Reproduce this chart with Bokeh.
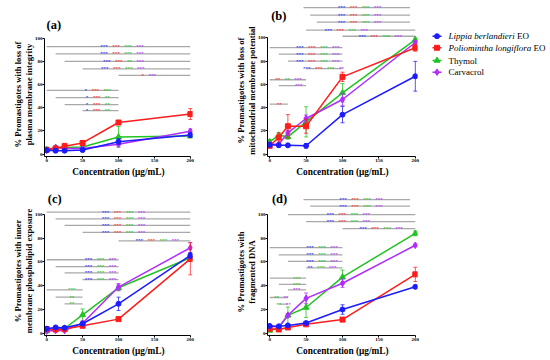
from bokeh.plotting import figure
from bokeh.models import ColumnDataSource, FixedTicker, Range1d
from bokeh.layouts import row, column
from bokeh.embed import file_html
from bokeh.resources import INLINE
from bokeh.core.properties import value

# ---------------- data ----------------
conc = [0, 12.5, 25, 50, 100, 200]
x_ticks = [0, 50, 100, 150, 200]
y_ticks = [0, 20, 40, 60, 80, 100]
legend_italic = ["Lippia berlandieri", "Poliomintha longiflora", "Thymol", "Carvacrol"]
legend_suffix = ["EO", "EO", "", ""]
panel_labels = ["(a)", "(b)", "(c)", "(d)"]
y_titles = [
    "% Promastigotes with loss of\nplasma membrane integrity",
    "% Promastigotes with loss of\nmitochondrial membrane potential",
    "% Promastigotes with inner\nmembrane phospholipid exposure",
    "% Promastigotes with\nfragmented DNA",
]
x_title = "Concentration (\u03bcg/mL)"

# panel (a) plasma membrane integrity
a_lippia = [3.4, 3.0, 3.0, 3.6, 10.8, 16.5]
a_lippia_err = [1.0, 1.0, 1.2, 1.5, 2.5, 2.0]
a_polio = [3.8, 5.0, 6.9, 9.7, 27.3, 34.6]
a_polio_err = [1.0, 1.0, 2.5, 2.0, 1.5, 4.7]
a_thymol = [4.0, 5.7, 5.8, 6.2, 14.8, 15.6]
a_thymol_err = [1.5, 1.0, 1.0, 1.0, 9.0, 1.5]
a_carv = [3.2, 5.8, 5.0, 4.9, 8.6, 19.8]
a_carv_err = [1.0, 1.0, 1.0, 1.0, 1.5, 2.0]

# panel (b) mitochondrial membrane potential
b_lippia = [8.0, 7.7, 7.6, 7.2, 34.0, 67.0]
b_lippia_err = [1.5, 1.5, 1.0, 2.0, 7.0, 12.8]
b_polio = [7.2, 14.3, 24.0, 24.0, 66.5, 91.5]
b_polio_err = [1.0, 4.0, 10.0, 6.0, 4.0, 3.0]
b_thymol = [10.6, 16.3, 14.9, 27.8, 52.7, 98.5]
b_thymol_err = [2.0, 2.0, 2.0, 13.0, 8.0, 1.0]
b_carv = [8.6, 8.6, 18.3, 30.7, 47.0, 96.0]
b_carv_err = [1.0, 1.0, 2.0, 3.0, 5.0, 1.5]

# panel (c) inner membrane phospholipid exposure
c_lippia = [3.7, 4.8, 4.5, 7.9, 24.7, 65.4]
c_lippia_err = [1.0, 1.0, 1.0, 1.5, 5.6, 2.5]
c_polio = [3.4, 3.1, 3.4, 6.2, 11.8, 62.6]
c_polio_err = [0.8, 0.8, 0.8, 1.0, 1.0, 13.5]
c_thymol = [1.7, 3.9, 3.9, 15.4, 38.2, 63.5]
c_thymol_err = [0.8, 1.0, 1.0, 5.0, 2.5, 3.0]
c_carv = [1.7, 2.2, 2.2, 8.4, 38.8, 71.9]
c_carv_err = [0.8, 0.8, 0.8, 1.0, 3.0, 4.5]

# panel (d) fragmented DNA
d_lippia = [6.0, 5.7, 6.5, 8.5, 19.9, 39.0]
d_lippia_err = [1.0, 1.0, 1.0, 1.0, 4.0, 1.0]
d_polio = [3.7, 3.1, 4.8, 7.4, 11.4, 49.5]
d_polio_err = [0.8, 0.8, 1.0, 1.0, 1.5, 6.0]
d_thymol = [2.3, 4.3, 15.0, 21.6, 47.2, 84.0]
d_thymol_err = [1.0, 2.0, 7.0, 8.5, 6.0, 2.0]
d_carv = [5.7, 5.1, 15.0, 29.3, 42.0, 74.0]
d_carv_err = [1.0, 1.0, 1.5, 4.5, 3.5, 1.0]

# significance brackets: (y, x start, x end, text centre, groups)
ann_a = [
    (92.8, 0, 200, 105, "B*** R*** G*** P***"),
    (86.5, 12.5, 200, 105, "B*** R*** G*** P***"),
    (80.0, 25, 200, 107, "B*** R*** G** P***"),
    (73.6, 50, 200, 106, "B*** R*** G*** P***"),
    (68.0, 100, 200, 142, "R* P***"),
    (55.0, 0, 100, 71, "B* R*** G***"),
    (48.7, 12.5, 100, 71, "B* R*** G**"),
    (42.7, 25, 100, 71, "B* R*** G**"),
    (37.5, 50, 100, 71, "B* R*** G**"),
]
ann_b = [
    (126.0, 0, 200, 105, "B*** R*** G*** P***"),
    (119.5, 12.5, 200, 105, "B*** R*** G*** P***"),
    (113.5, 25, 200, 105, "B*** R*** G*** P***"),
    (106.7, 50, 200, 105, "B*** R*** G*** P***"),
    (101.4, 100, 200, 152, "B*** R*** G*** P***"),
    (91.7, 0, 100, 66, "B*** R*** G*** P***"),
    (86.0, 12.5, 100, 66, "B*** R*** G*** P***"),
    (80.0, 25, 100, 66, "B*** R*** G*** P***"),
    (73.6, 50, 100, 74, "B*** R*** G*** P**"),
    (64.0, 0, 50, 26, "R** G** P***"),
    (59.0, 12.5, 50, 40, "P***"),
    (43.0, 0, 25, 13, "R**"),
]
ann_c = [
    (102.0, 0, 200, 107, "B*** R*** G*** P***"),
    (96.3, 12.5, 200, 107, "B*** R*** G*** P***"),
    (90.7, 25, 200, 107, "B*** R*** G*** P***"),
    (84.8, 50, 200, 107, "B*** R*** G*** P***"),
    (77.8, 100, 200, 154, "B*** R*** G*** P***"),
    (61.8, 0, 100, 75, "B*** G*** P***"),
    (56.0, 12.5, 100, 75, "B*** G*** P***"),
    (50.8, 25, 100, 75, "B*** G*** P***"),
    (45.0, 50, 100, 75, "B*** G*** P***"),
    (36.5, 0, 50, 35, "G***"),
    (30.3, 12.5, 50, 35, "G**"),
    (24.7, 25, 50, 35, "G**"),
]
ann_d = [
    (112.5, 0, 200, 108, "B*** R*** G*** P***"),
    (107.0, 12.5, 200, 108, "B*** R*** G*** P***"),
    (99.8, 25, 200, 108, "B*** R*** G*** P***"),
    (94.0, 50, 200, 108, "B*** R*** G*** P***"),
    (88.0, 100, 200, 153, "B*** R*** G*** P***"),
    (72.0, 0, 100, 72, "B*** G*** P***"),
    (66.0, 12.5, 100, 72, "B*** G*** P***"),
    (60.5, 25, 100, 72, "B*** G*** P***"),
    (55.0, 50, 100, 72, "B** G*** P***"),
    (46.3, 0, 50, 37, "G***"),
    (41.0, 12.5, 50, 37, "G***"),
    (36.4, 25, 50, 37, "P***"),
    (30.0, 0, 25, 16, "G** P**"),
    (24.4, 12.5, 25, 19, "G** P**"),
]

# ---------------- style ----------------
FONT = "Liberation Serif"
COLORS = {"B": "#1c1cff", "R": "#ff1c1c", "G": "#22c322", "P": "#b12cff"}
SERIES_KEYS = ["B", "R", "G", "P"]
MARKERS = ["circle", "square", "triangle", "diamond"]
MSIZE = [5, 5, 6, 6.5]
DRAW_ORDER = [2, 3, 1, 0]
STAR_ASCENT = 5.2   # px above the baseline taken by a 5px asterisk text


def bare_figure(width, height, xr, yr):
    f = figure(width=width, height=height, x_range=Range1d(*xr), y_range=Range1d(*yr),
               toolbar_location=None, output_backend="svg", min_border=0,
               x_axis_type=None, y_axis_type=None)
    f.outline_line_color = None
    f.grid.visible = False
    f.background_fill_color = "white"
    f.border_fill_color = "white"
    return f


def draw_lines(p, ann):
    seg = ColumnDataSource(dict(x0=[a[1] for a in ann], x1=[a[2] for a in ann],
                                y=[a[0] for a in ann]))
    p.segment(x0="x0", y0="y", x1="x1", y1="y", source=seg,
              line_color="#a9a9a9", line_width=1.3)


def draw_stars(p, ann):
    tx, ty, tt, tc, to = [], [], [], [], []
    star_w, gap = 2.5, 4.5
    for (yv, x0, x1, xc, groups) in ann:
        gl = groups.split()
        widths = [len(g[1:]) * star_w for g in gl]
        total = sum(widths) + gap * (len(gl) - 1)
        cur = -total / 2
        for g, w in zip(gl, widths):
            tx.append(xc)
            ty.append(yv)
            tt.append(g[1:])
            tc.append(COLORS[g[0]])
            to.append(cur + w / 2)
            cur += w + gap
    tsrc = ColumnDataSource(dict(x=tx, y=ty, text=tt, color=tc, xoff=to))
    p.text(x="x", y="y", text="text", text_color="color", x_offset="xoff",
           source=tsrc, text_font=value(FONT), text_font_size="5px",
           text_font_style="bold", text_align="center", text_baseline="alphabetic")


def build(idx, series, errs, ann, width, mbl, mbr, row_h, strip_h, mbb, ppy, label_pos):
    frame_w = width - mbl - mbr
    ppu = frame_w / 206.0
    frame_h = row_h - strip_h - mbb
    y_top = frame_h / ppy - 2
    strip_top = y_top + strip_h / ppy
    xl = -3 - mbl / ppu
    xr = 203 + mbr / ppu

    lines_up = [a for a in ann if a[0] > y_top]
    lines_dn = [a for a in ann if a[0] <= y_top]
    stars_up = [a for a in ann if a[0] + STAR_ASCENT / ppy > y_top]
    stars_dn = [a for a in ann if a[0] + STAR_ASCENT / ppy <= y_top]

    # strip above the frame: upper brackets and the panel letter
    s = bare_figure(width, strip_h, (xl, xr), (y_top, strip_top))
    draw_lines(s, lines_up)
    draw_stars(s, stars_up)
    s.text(x=[xl + label_pos[0] / ppu], y=[strip_top - label_pos[1] / ppy],
           text=[panel_labels[idx]], text_font=value(FONT), text_font_size="12.5px",
           text_font_style="bold", text_align="left", text_baseline="middle",
           text_color="black")

    p = figure(width=width, height=row_h - strip_h, x_range=Range1d(-3, 203),
               y_range=Range1d(-2, y_top), toolbar_location=None,
               output_backend="svg", min_border_left=mbl, min_border_right=mbr,
               min_border_top=0, min_border_bottom=mbb)
    p.outline_line_color = None
    p.grid.visible = False
    p.background_fill_color = "white"
    p.border_fill_color = "white"
    draw_lines(p, lines_dn)
    draw_stars(p, stars_dn)

    for k in DRAW_ORDER:
        ys, es = series[k], errs[k]
        col = COLORS[SERIES_KEYS[k]]
        src = ColumnDataSource(dict(x=conc, y=ys,
                                    lo=[y - e for y, e in zip(ys, es)],
                                    hi=[y + e for y, e in zip(ys, es)]))
        p.segment(x0="x", y0="lo", x1="x", y1="hi", source=src,
                  line_color=col, line_width=1, line_alpha=0.75)
        p.scatter(x="x", y="lo", source=src, marker="dash", size=4,
                  line_color=col, line_width=1, line_alpha=0.75)
        p.scatter(x="x", y="hi", source=src, marker="dash", size=4,
                  line_color=col, line_width=1, line_alpha=0.75)
        p.line(x="x", y="y", source=src, line_color=col, line_width=1.5)
        p.scatter(x="x", y="y", source=src, marker=MARKERS[k], size=MSIZE[k],
                  fill_color=col, line_color=col)

    p.xaxis.ticker = FixedTicker(ticks=x_ticks)
    p.yaxis.ticker = FixedTicker(ticks=y_ticks)
    p.xaxis.bounds = (-3, 200)
    p.yaxis.bounds = (-2, 100)
    for ax in (p.xaxis, p.yaxis):
        ax.axis_line_color = "black"
        ax.axis_line_width = 1
        ax.major_tick_line_color = "black"
        ax.major_tick_out = 2
        ax.major_tick_in = 0
        ax.minor_tick_line_color = None
        ax.major_label_text_font = FONT
        ax.major_label_text_font_size = "5px"
        ax.major_label_text_font_style = "bold"
        ax.major_label_text_color = "black"
        ax.major_label_standoff = 0
        ax.axis_label_text_font = FONT
        ax.axis_label_text_font_style = "bold"
        ax.axis_label_text_color = "black"
        ax.axis_label_text_line_height = 1.1
    p.xaxis.axis_label_text_font_size = "9.3px"
    p.yaxis.axis_label_text_font_size = "8.6px"
    p.xaxis.axis_label = x_title
    p.xaxis.axis_label_standoff = 2
    p.yaxis.axis_label = y_titles[idx]
    p.yaxis.axis_label_standoff = -2
    return column(s, p)


TOP_H, BOT_H = 182, 177
col_a = build(0, [a_lippia, a_polio, a_thymol, a_carv],
              [a_lippia_err, a_polio_err, a_thymol_err, a_carv_err], ann_a,
              220, 44, 28, TOP_H, 32, 26, 1.16, (3, 24))
col_b = build(1, [b_lippia, b_polio, b_thymol, b_carv],
              [b_lippia_err, b_polio_err, b_thymol_err, b_carv_err], ann_b,
              205, 47, 8, TOP_H, 24, 26, 1.163, (5, 15.8))
col_c = build(2, [c_lippia, c_polio, c_thymol, c_carv],
              [c_lippia_err, c_polio_err, c_thymol_err, c_carv_err], ann_c,
              220, 44, 28, BOT_H, 24, 24, 1.187, (5, 16.0))
col_d = build(3, [d_lippia, d_polio, d_thymol, d_carv],
              [d_lippia_err, d_polio_err, d_thymol_err, d_carv_err], ann_d,
              205, 47, 8, BOT_H, 26, 24, 1.187, (6, 16))

# ---------------- legend ----------------
LEG_W = 121
leg = bare_figure(LEG_W, TOP_H, (0, LEG_W), (TOP_H, 0))
rows_y = [35.7, 47.3, 60.0, 71.7]
italic_w = [66.3, 82.8, 0, 0]
for k in range(4):
    col = COLORS[SERIES_KEYS[k]]
    leg.segment(x0=[7], y0=[rows_y[k]], x1=[16], y1=[rows_y[k]],
                line_color=col, line_width=1.5)
    leg.scatter(x=[11.5], y=[rows_y[k]], marker=MARKERS[k], size=MSIZE[k],
                fill_color=col, line_color=col)
    style = "italic" if legend_suffix[k] else "normal"
    leg.text(x=[23], y=[rows_y[k]], text=[legend_italic[k]],
             text_font=value(FONT), text_font_size="9px", text_font_style=style,
             text_baseline="middle", text_align="left", text_color="black")
    if legend_suffix[k]:
        leg.text(x=[23 + italic_w[k] + 2.25], y=[rows_y[k]], text=[legend_suffix[k]],
                 text_font=value(FONT), text_font_size="9px", text_font_style="normal",
                 text_baseline="middle", text_align="left", text_color="black")

layout = column(row(col_a, col_b, leg), row(col_c, col_d))
open("out.html", "w").write(file_html(layout, INLINE))
